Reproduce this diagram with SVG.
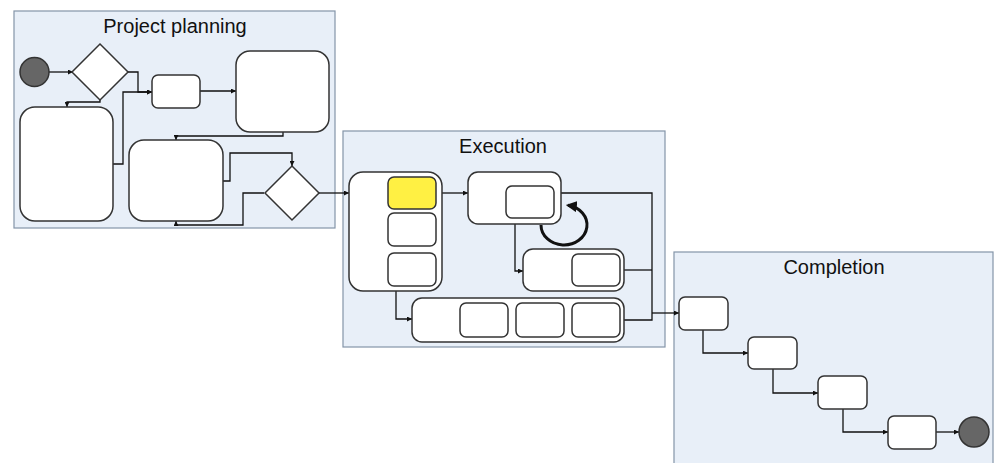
<svg xmlns="http://www.w3.org/2000/svg" width="996" height="463" viewBox="0 0 996 463">
<style>
.lane{fill:#E8EFF8;stroke:#8494A8;stroke-width:1.2}
.title{font-family:"Liberation Sans",Arial,sans-serif;font-size:20px;fill:#111;text-anchor:middle}
.node{fill:#fff;stroke:#333;stroke-width:1.5}
.yel{fill:#FFF043;stroke:#333;stroke-width:1.5}
.term{fill:#666;stroke:#333;stroke-width:1.5}
.c{fill:none;stroke:#111;stroke-width:1.3}
.loop{fill:none;stroke:#111;stroke-width:3}
</style>
<defs>
<marker id="a" viewBox="0 0 10 10" refX="10" refY="5" markerWidth="5" markerHeight="5" markerUnits="userSpaceOnUse" orient="auto"><path d="M0,0 L10,5 L0,10 z" fill="#111"/></marker>
<marker id="big" viewBox="0 0 10 10" refX="8" refY="5" markerWidth="11" markerHeight="11" markerUnits="userSpaceOnUse" orient="auto"><path d="M0,0 L10,5 L0,10 z" fill="#111"/></marker>
</defs>
<g id="lane-planning"><rect class="lane" x="14" y="11" width="321" height="217"/><text class="title" x="175" y="33">Project planning</text></g>
<g id="lane-execution"><rect class="lane" x="343" y="131" width="322" height="216"/><text class="title" x="503" y="153">Execution</text></g>
<g id="lane-completion"><rect class="lane" x="674" y="252" width="319" height="215"/><text class="title" x="834" y="274">Completion</text></g>

<g id="connectors">
<path class="c" d="M49,72 H73" marker-end="url(#a)"/>
<path class="c" d="M128,72 H138 V92 H152" marker-end="url(#a)"/>
<path class="c" d="M100,100 V102 H67 V107" marker-end="url(#a)"/>
<path class="c" d="M113,164 H123 V92 H152" marker-end="url(#a)"/>
<path class="c" d="M200,91 H236" marker-end="url(#a)"/>
<path class="c" d="M283,132 V136 H176 V140" marker-end="url(#a)"/>
<path class="c" d="M223,181 H230 V153 H292 V166" marker-end="url(#a)"/>
<path class="c" d="M264,193 H243 V225 H176 V221" marker-end="url(#a)"/>
<path class="c" d="M319,193 H349" marker-end="url(#a)"/>
<path class="c" d="M442,193 H468" marker-end="url(#a)"/>
<path class="c" d="M412,246 V253"/>
<path class="c" d="M515,224 V271 H523" marker-end="url(#a)"/>
<path class="c" d="M396,291 V319 H412" marker-end="url(#a)"/>
<path class="c" d="M561,193 H652 V320 H624"/>
<path class="c" d="M624,270 H652"/>
<path class="c" d="M652,313 H679" marker-end="url(#a)"/>
<path class="loop" d="M541,225 A23,20 0 1,0 568,205.3" marker-end="url(#big)"/>
<path class="c" d="M703,330 V353 H748" marker-end="url(#a)"/>
<path class="c" d="M773,369 V393 H818" marker-end="url(#a)"/>
<path class="c" d="M843,409 V432 H888" marker-end="url(#a)"/>
<path class="c" d="M936,432 H959" marker-end="url(#a)"/>
</g>

<g id="start"><circle class="term" cx="34.5" cy="72" r="14.5"/></g>
<g id="decision1"><polygon class="node" points="100,44 128,72 100,100 72,72"/></g>
<g id="p-small"><rect class="node" x="152" y="75" width="48" height="33" rx="6"/></g>
<g id="p-big"><rect class="node" x="236" y="51" width="93" height="81" rx="14"/></g>
<g id="p-tall"><rect class="node" x="20" y="107" width="93" height="114" rx="15"/></g>
<g id="p-mid"><rect class="node" x="129" y="140" width="94" height="81" rx="15"/></g>
<g id="decision2"><polygon class="node" points="292,166 319,193 292,220 265,193"/></g>

<g id="e-left"><rect class="node" x="349" y="172" width="93" height="119" rx="14"/>
<rect class="yel" x="388" y="177" width="48" height="32" rx="6"/>
<rect class="node" x="388" y="213" width="48" height="33" rx="6"/>
<rect class="node" x="388" y="253" width="48" height="33" rx="6"/></g>
<g id="e-top"><rect class="node" x="468" y="172" width="93" height="52" rx="10"/>
<rect class="node" x="506" y="186" width="48" height="32" rx="6"/></g>
<g id="e-mid"><rect class="node" x="523" y="249" width="101" height="42" rx="10"/>
<rect class="node" x="572" y="254" width="48" height="32" rx="6"/></g>
<g id="e-bottom"><rect class="node" x="412" y="298" width="212" height="44" rx="10"/>
<rect class="node" x="460" y="303" width="48" height="34" rx="6"/>
<rect class="node" x="516" y="303" width="48" height="34" rx="6"/>
<rect class="node" x="572" y="303" width="48" height="34" rx="6"/></g>

<g id="c1"><rect class="node" x="679" y="297" width="49" height="33" rx="6"/></g>
<g id="c2"><rect class="node" x="748" y="337" width="49" height="32" rx="6"/></g>
<g id="c3"><rect class="node" x="818" y="376" width="49" height="33" rx="6"/></g>
<g id="c4"><rect class="node" x="888" y="416" width="48" height="33" rx="6"/></g>
<g id="end"><circle class="term" cx="974" cy="432" r="15"/></g>
</svg>
